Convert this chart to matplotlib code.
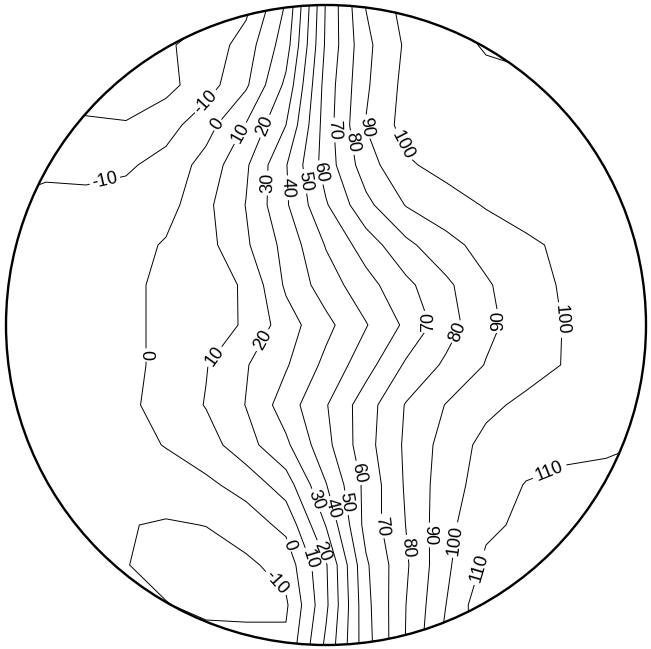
import matplotlib
matplotlib.use("Agg")
import matplotlib.pyplot as plt
import matplotlib.patches as patches
import numpy as np

# grid nodes every 1/8 of the radius, rows from top (y=1) to bottom (y=-1)
xs = np.linspace(-1, 1, 17)
ys = np.linspace(1, -1, 17)

row01 = [-25, -25, -25, -25, -25, -22, -13, 11, 61, 90.4, 104, 108, 113, 112, 110, 110, 110]
row02 = [-25, -25, -25, -25, -21, -17, -5.2, 15.4, 61.8, 87.6, 101.5, 106, 111, 112, 111, 111, 111]
row03 = [-25, -25, -25, -24, -23, -14.5, -1.6, 22.3, 64.3, 88.6, 103, 105, 107, 108.5, 109, 109, 109]
row04 = [-16, -17, -18.5, -19.5, -14, -4, 10.6, 30, 65, 90.4, 104, 105, 106, 107, 107.5, 108, 108]
row05 = [-14, -11.5, -13, -11.5, -6.5, 3.6, 18.5, 39.4, 64.7, 85.4, 98.5, 103.5, 105, 106, 107, 107, 107]
row06 = [-9, -8, -7, -6, -4, 7.6, 20.3, 38.7, 59, 77.3, 90.5, 95.5, 100.8, 103, 105, 106, 106]
row07 = [-8, -7, -6, -4, 1, 6.5, 18.5, 33.3, 50.7, 64.8, 77.5, 87, 93.4, 98.7, 101.5, 104, 105]
row08 = [-8, -6.5, -5, -2, 2, 6.3, 11, 31.7, 45, 56.2, 67.6, 77.8, 88.9, 95.5, 101.5, 104, 105]
row09 = [-8, -6, -4.5, -2, 2, 6, 11, 25.5, 37.2, 49.4, 62, 75.5, 87.5, 94.7, 100.6, 104, 106]
row10 = [-8, -6, -4.5, -2, 2, 9.5, 19.3, 29, 42.6, 56, 71.5, 81.8, 90.5, 95.5, 100.7, 104, 107]
row11 = [-8, -6, -4.5, -2, 3.5, 10.5, 20.3, 35, 49.3, 65.5, 80.7, 90.4, 97.5, 102.5, 105, 107, 108]
row12 = [-9, -7, -5, -3, 0.4, 5.5, 16.2, 28, 47, 66.3, 81.7, 94, 103, 105.5, 107.5, 109, 110.2]
row13 = [-9, -8, -7, -6, -4.5, -2, 3.5, 15, 39.5, 62.9, 81.3, 95.7, 104.4, 110.5, 112.5, 112, 113]
row14 = [-9, -9, -9, -9.5, -11, -9.8, -5, 2.6, 30.5, 63.5, 80.2, 97, 108, 112, 114, 115, 115]
row15 = [-9, -9, -9, -9.6, -14, -15, -12, -6.2, 19, 58.5, 78.6, 98, 112, 115, 116, 116, 116]
row16 = [-9, -9, -9, -9, -9.5, -13, -13, -11.5, 18, 57, 80, 100, 118, 118, 118, 118, 118]
row17 = [-9, -9, -9, -9, -9, -5, -6, -8, 22, 56, 80.5, 103, 115, 118, 118, 118, 118]

levels = [-20, -10, 0, 10, 20, 30, 40, 50, 60, 70, 80, 90, 100, 110]

# label spots, in picture pixels
label_spots = {
    -10: [(210, 105), (107, 190), (283, 577)],
    0: [(220, 127), (143, 355), (290, 545)],
    10: [(240, 133), (215, 357), (313, 558)],
    20: [(262, 125), (266, 342), (326, 550)],
    30: [(265, 183), (317, 500)],
    40: [(283, 188), (337, 507)],
    50: [(300, 182), (352, 502)],
    60: [(318, 173), (358, 473)],
    70: [(334, 130), (430, 322), (388, 525)],
    80: [(350, 143), (458, 332), (410, 547)],
    90: [(365, 127), (495, 322), (430, 535)],
    100: [(398, 147), (561, 320), (455, 540)],
    110: [(547, 465), (477, 567)],
}


def to_xy(px, py):
    return ((px - 326) / 320.0, (325 - py) / 320.0)


Z = np.array([row01, row02, row03, row04, row05, row06, row07, row08, row09,
              row10, row11, row12, row13, row14, row15, row16, row17])[::-1]
X, Y = np.meshgrid(xs, ys[::-1])

fig = plt.figure(figsize=(6.51, 6.49), dpi=100)
ax = fig.add_axes([0, 0, 1, 1])
ax.set_xlim(-326 / 320.0, 325 / 320.0)
ax.set_ylim(-324 / 320.0, 325 / 320.0)
ax.axis("off")

circle = patches.Circle((0, 0), 1.0, fill=False, lw=1.7, color="black", zorder=3)
ax.add_patch(circle)
clip = patches.Circle((0, 0), 1.0, transform=ax.transData)

# one contour set per level so each label lands on its own line
for lev in levels:
    cs = ax.contour(X, Y, Z, levels=[lev], colors="black", linewidths=0.7,
                    linestyles="solid", negative_linestyles="solid")
    cs.set_clip_path(clip)
    if lev in label_spots:
        pts = [to_xy(px, py) for px, py in label_spots[lev]]
        txts = ax.clabel(cs, manual=pts, inline=True, inline_spacing=1,
                         fmt="%d", fontsize=13)
        for t in txts:
            t.set_fontfamily("Liberation Sans")

fig.savefig("out.png", dpi=100)
